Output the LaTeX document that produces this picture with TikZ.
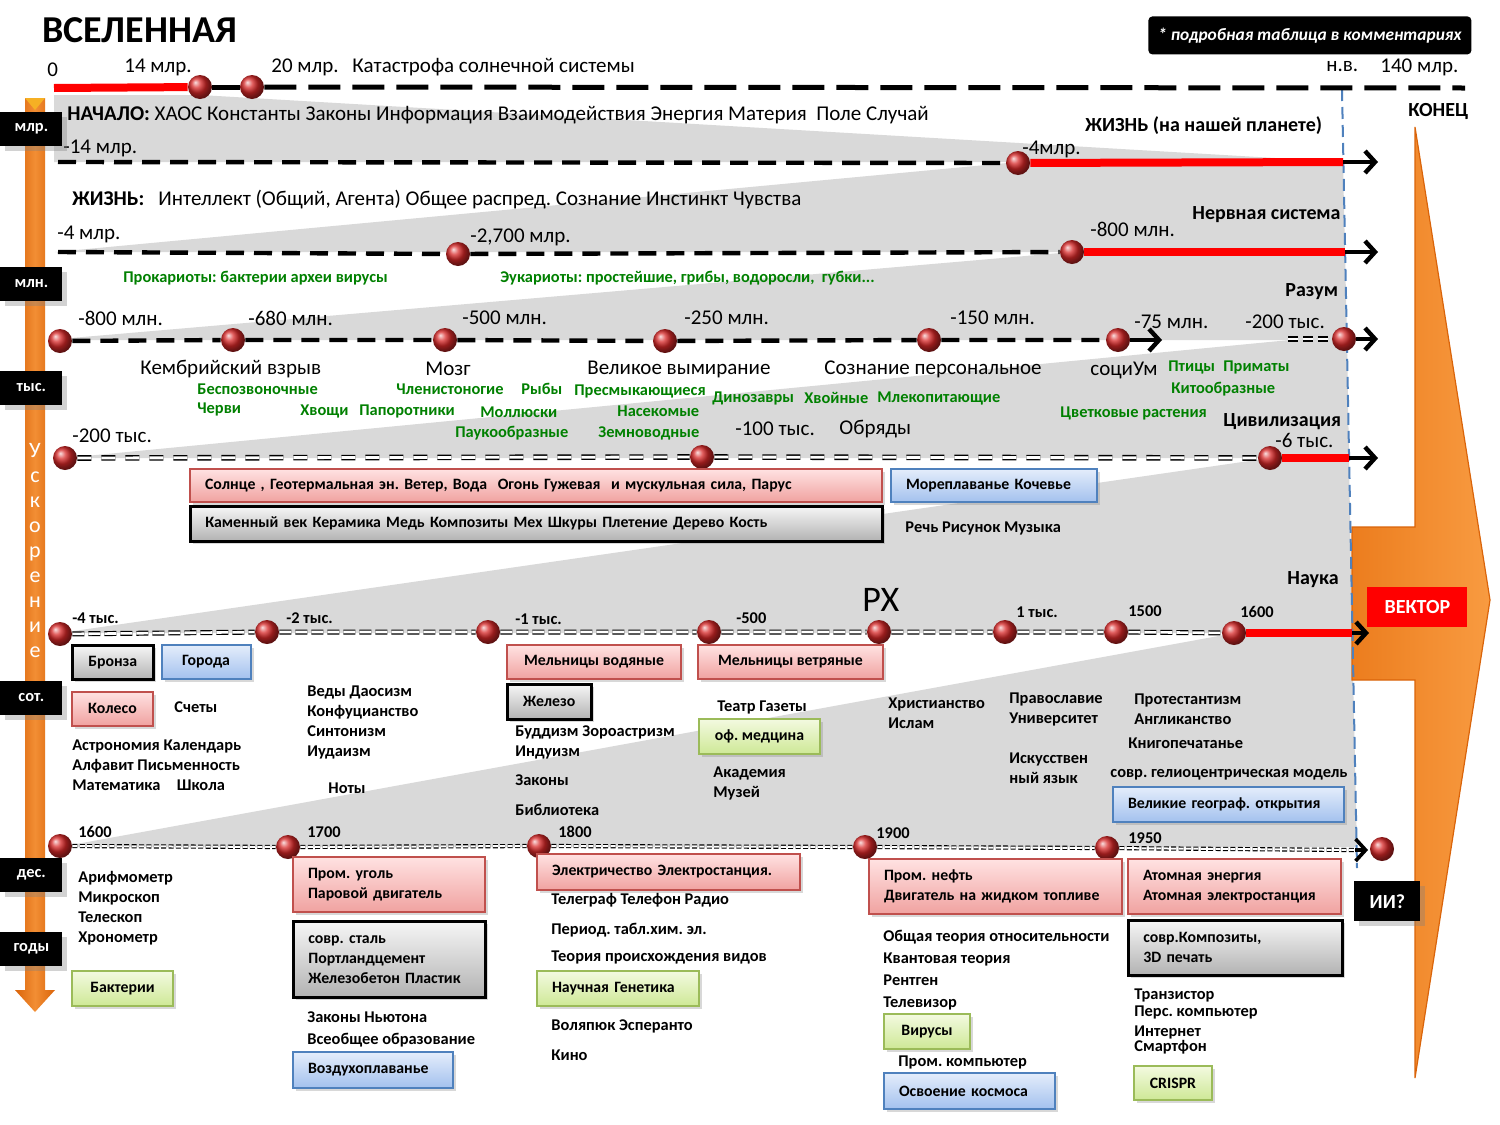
\documentclass[tikz,border=0pt]{standalone}
\usepackage{fontspec}
\setmainfont{Carlito}
\usepackage{xcolor}
\usepackage{tikz}
\usetikzlibrary{arrows.meta, positioning, shadows}
\definecolor{bandgrey}{RGB}{217,217,217}
\definecolor{leafgreen}{RGB}{0,128,0}
\definecolor{nowblue}{RGB}{79,129,189}
\definecolor{rededge}{RGB}{192,80,77}
\definecolor{pinktop}{RGB}{255,226,226}
\definecolor{pinkbot}{RGB}{240,162,160}
\definecolor{greytop}{RGB}{246,246,246}
\definecolor{greybot}{RGB}{178,178,178}
\definecolor{bluetop}{RGB}{228,237,251}
\definecolor{bluebot}{RGB}{163,193,238}
\definecolor{greenedge}{RGB}{155,187,89}
\definecolor{greentop}{RGB}{243,250,224}
\definecolor{greenbot}{RGB}{206,232,150}
\definecolor{axisdark}{RGB}{218,100,10}
\definecolor{axislight}{RGB}{242,142,52}
\definecolor{vecorange}{RGB}{248,155,65}
\definecolor{vecdark}{RGB}{236,125,30}
\definecolor{ballred}{RGB}{215,40,40}
\newcommand{\lblfont}{\fontsize{10.5}{12.5}\selectfont}
\newcommand{\smfont}{\fontsize{8.2}{10}\selectfont\bfseries}
\newcommand{\boxfont}{\fontsize{7.9}{10}\selectfont\bfseries}
\newcommand{\hdfont}{\fontsize{10}{12}\selectfont\bfseries}
\frenchspacing

\begin{document}
\begin{tikzpicture}[
    x=0.5pt, y=-0.5pt,
    every node/.style={inner sep=0pt, anchor=west},
    txt/.style={font=\lblfont},
    sm/.style={font=\smfont, align=left},
    grn/.style={font=\smfont, text=leafgreen},
    hd/.style={font=\hdfont},
    redball/.style={circle, ball color=ballred, minimum size=12pt, anchor=center},
    unitbox/.style={fill=black, text=white, font=\smfont, minimum width=31pt, minimum height=17pt, drop shadow={opacity=0.35}},
    topdash/.style={line width=2.5pt, dash pattern=on 16pt off 6pt},
    rowdash/.style={line width=2.2pt, dash pattern=on 9pt off 5pt},
    dbl/.style={double, double distance=1.4pt, line width=0.7pt, dash pattern=on 7pt off 5pt},
    dblshort/.style={double, double distance=1.4pt, line width=0.7pt, dash pattern=on 5pt off 2.5pt},
    dbldense/.style={double, double distance=1.3pt, line width=0.6pt, dash pattern=on 6pt off 2pt},
    dbldot/.style={double, double distance=1pt, line width=0.55pt, dash pattern=on 2.5pt off 1.2pt},
    redline/.style={red, line width=4pt},
    endarrow/.style={line width=2.2pt, -{Straight Barb[length=5pt, width=11pt]}},
    bx/.style={anchor=north west, font=\boxfont, inner xsep=7.5pt, align=left,
               drop shadow={opacity=0.3, shadow xshift=1.5pt, shadow yshift=-1.5pt}},
    redbox/.style={bx, draw=rededge, line width=1pt, top color=pinktop, bottom color=pinkbot},
    greybox/.style={bx, draw=black, line width=1.3pt, top color=greytop, bottom color=greybot},
    bluebox/.style={bx, draw=nowblue, line width=1pt, top color=bluetop, bottom color=bluebot},
    greenbox/.style={bx, draw=greenedge, line width=1pt, top color=greentop, bottom color=greenbot},
    cbox/.style={inner xsep=2pt, align=center, minimum width=#1},
]
\useasboundingbox[fill=white] (0,0) rectangle (1500,1125);

\fill[bandgrey] (54,95) -- (200,95) -- (1343,162) -- (54,162) -- cycle;
\fill[bandgrey] (1018,162) -- (1343,162) -- (1345,252) -- (55,252) -- cycle;
\fill[bandgrey] (1072,252) -- (1345,252) -- (1347,340) -- (48,340) -- cycle;
\fill[bandgrey] (1290,340) -- (1347,340) -- (1349,458) -- (65,458) -- cycle;
\fill[bandgrey] (1270,458) -- (1349,458) -- (1352,633) -- (60,633) -- cycle;
\fill[bandgrey] (1235,633) -- (1352,633) -- (1357,847) -- (60,847) -- cycle;

\shade[left color=vecdark, right color=vecorange, draw=axisdark, line width=0.6pt] (1415,127) -- (1490,600) -- (1415,1078) -- (1415,680) -- (1352,680) -- (1352,527) -- (1415,527) -- cycle;
\shade[left color=axisdark, right color=axisdark, middle color=axislight] (25,98) -- (45,98) -- (45,990) -- (55,990) -- (35,1012) -- (15,990) -- (25,990) -- cycle;
\fill[axislight!70!yellow] (25,98) -- (45,98) -- (35,110) -- cycle;

\coordinate (nowtop) at (1342,89);
\coordinate (nowbot) at (1357,868);
\draw[nowblue, line width=1pt, dash pattern=on 6pt off 3pt] (nowtop) -- (nowbot);

\coordinate (t0) at (54,88);
\coordinate (tend) at (1465,88);
\node[redball] (t14) at (200,87) {};
\node[redball] (t20) at (252,87) {};
\draw[redline] (t0) -- (t14);
\draw[topdash] (t14) -- (t20);
\draw[topdash] (t20) -- (tend);

\coordinate (r1s) at (58,162);
\coordinate (r1now) at (1343,162);
\coordinate (r1end) at (1378,162);
\node[redball] (r1a) at (1018,163) {};
\draw[rowdash] (r1s) -- (r1a);
\draw[redline] (r1a) -- (r1now);
\draw[endarrow] (r1now) -- (r1end);

\coordinate (r2s) at (58,252);
\coordinate (r2now) at (1345,252);
\coordinate (r2end) at (1378,252);
\node[redball] (r2a) at (458,254) {};
\node[redball] (r2b) at (1072,252) {};
\draw[rowdash] (r2s) -- (r2a) -- (r2b);
\draw[redline] (r2b) -- (r2now);
\draw[endarrow] (r2now) -- (r2end);

\node[redball] (r3a) at (60,341) {};
\node[redball] (r3b) at (233,340) {};
\node[redball] (r3c) at (445,340) {};
\node[redball] (r3d) at (665,341) {};
\node[redball] (r3e) at (929,340) {};
\node[redball] (r3f) at (1118,340) {};
\node[redball] (r3z) at (1344,339) {};
\coordinate (r3end) at (1162,340);
\coordinate (r3h) at (1288,339);
\coordinate (r3x) at (1378,339);
\draw[rowdash] (r3a) -- (r3b) -- (r3c) -- (r3d) -- (r3e) -- (r3f);
\draw[endarrow] (r3f) -- (r3end);
\draw[dblshort] (r3h) -- (r3z);
\draw[endarrow] (r3z) -- (r3x);

\node[redball] (r4a) at (65,458) {};
\node[redball] (r4b) at (702,457) {};
\node[redball] (r4c) at (1270,458) {};
\coordinate (r4now) at (1349,458);
\coordinate (r4end) at (1378,458);
\draw[dbl] (r4a) -- (r4b) -- (r4c);
\draw[redline] (r4c) -- (r4now);
\draw[endarrow] (r4now) -- (r4end);

\node[redball] (r5a) at (60,634) {};
\node[redball] (r5b) at (267,632) {};
\node[redball] (r5c) at (488,632) {};
\node[redball] (r5d) at (709,632) {};
\node[redball] (r5e) at (879,632) {};
\node[redball] (r5f) at (1005,632) {};
\node[redball] (r5g) at (1116,632) {};
\node[redball] (r5h) at (1234,633) {};
\coordinate (r5now) at (1352,633);
\coordinate (r5end) at (1369,633);
\draw[dbldense] (r5a) -- (r5b) -- (r5c) -- (r5d) -- (r5e) -- (r5f) -- (r5g) -- (r5h);
\draw[redline] (r5h) -- (r5now);
\draw[endarrow] (r5now) -- (r5end);

\node[redball] (r6a) at (60,846) {};
\node[redball] (r6b) at (288,847) {};
\node[redball] (r6c) at (539,846) {};
\node[redball] (r6d) at (865,847) {};
\node[redball] (r6e) at (1107,848) {};
\node[redball] (r6ai) at (1382,849) {};
\coordinate (r6now) at (1355,850);
\coordinate (r6end) at (1368,850);
\draw[dbldot] (r6a) -- (r6b) -- (r6c) -- (r6d) -- (r6e) -- (r6now);
\draw[endarrow, line width=1.8pt] (r6now) -- (r6end);

\node[font=\fontsize{19}{22}\selectfont\bfseries] (title) at (42,30) {ВСЕЛЕННАЯ};
\node[fill=black, rounded corners=2pt, text=white, font=\fontsize{8.7}{11}\selectfont\bfseries\itshape, minimum width=161.5pt, minimum height=19pt, anchor=north west] (note) at (1148,16) {* подробная таблица в комментариях};
\node[txt] (zero) at (47,70) {0};
\node[txt] (b14) at (124,67) {14 млр.};
\node[txt] (b20) at (271,67) {20 млр.};
\node[txt] (katastr) at (352,67) {Катастрофа солнечной системы};
\node[txt] (nv) at (1326,67) {н.в.};
\node[txt] (b140) at (1380,67) {140 млр.};
\node[hd] (konec) at (1408,111) {КОНЕЦ};

\node[txt] (nachalo) at (67,115) {\textbf{НАЧАЛО:} ХАОС Константы Законы Информация Взаимодействия Энергия Материя\ \ Поле Случай};
\node[txt] (m14) at (63,148) {-14 млр.};
\node[txt] (m4a) at (1022,149) {-4млр.};
\node[hd] (zhplan) at (1085,126) {ЖИЗНЬ (на нашей планете)};

\node[txt] (zhizn) at (72,200) {\textbf{ЖИЗНЬ:}\hspace{7pt}Интеллект (Общий, Агента) Общее распред. Сознание Инстинкт Чувства};
\node[txt] (m4b) at (57,234) {-4 млр.};
\node[txt] (m27) at (470,237) {-2,700 млр.};
\node[txt] (m800a) at (1090,229) {-800 млн.};
\node[hd] (nerv) at (1192,215) {Нервная система};
\node[grn] (prok) at (123,278) {Прокариоты: бактерии археи вирусы};
\node[grn] (euk) at (500,278) {Эукариоты: простейшие, грибы, водоросли,\ \ губки...};

\node[txt] (m800b) at (78,318) {-800 млн.};
\node[txt] (m680) at (248,318) {-680 млн.};
\node[txt] (m500) at (462,318) {-500 млн.};
\node[txt] (m250) at (684,318) {-250 млн.};
\node[txt] (m150) at (950,318) {-150 млн.};
\node[txt] (m75) at (1134,322) {-75 млн.};
\node[txt] (k200a) at (1245,322) {-200 тыс.};
\node[hd] (razum) at (1285,292) {Разум};
\node[txt] (kembr) at (140,369) {Кембрийский взрыв};
\node[txt] (mozg) at (425,369) {Мозг};
\node[txt] (vymir) at (587,369) {Великое вымирание};
\node[txt] (soznan) at (824,369) {Сознание персональное};
\node[txt] (socium) at (1090,370) {социУм};
\node[grn] (bespoz) at (197,389) {Беспозвоночные};
\node[grn] (chervi) at (197,409) {Черви};
\node[grn] (hvoshi) at (300,411) {Хвощи};
\node[grn] (paporot) at (359,411) {Папоротники};
\node[grn] (chlen) at (396,389) {Членистоногие};
\node[grn] (ryby) at (521,389) {Рыбы};
\node[grn] (mollus) at (480,412) {Моллюски};
\node[grn] (pauk) at (455,433) {Паукообразные};
\node[grn] (presm) at (574,391) {Пресмыкающиеся};
\node[grn] (nasek) at (617,411) {Насекомые};
\node[grn] (zemn) at (598,433) {Земноводные};
\node[grn] (dinoz) at (712,398) {Динозавры};
\node[grn] (hvoin) at (804,398) {Хвойные};
\node[grn] (mlek) at (877,398) {Млекопитающие};
\node[grn] (ptic) at (1168,367) {Птицы};
\node[grn] (primat) at (1223,367) {Приматы};
\node[grn] (kitoob) at (1171,389) {Китообразные};
\node[grn] (cvetk) at (1060,413) {Цветковые растения};
\node[txt] (k100) at (735,429) {-100 тыс.};
\node[txt] (obryad) at (839,429) {Обряды};

\node[txt] (k200b) at (72,436) {-200 тыс.};
\node[hd] (civil) at (1223,422) {Цивилизация};
\node[txt] (k6) at (1275,440) {-6 тыс.};
\node[redbox, text width=331pt, minimum height=16.5pt] (solnce) at (189,468) {Солнце , Геотермальная эн. Ветер, Вода\ \ Огонь Гужевая\ \ и мускульная сила, Парус};
\node[greybox, text width=331pt, minimum height=17.5pt, below=1pt of solnce.south west, anchor=north west] (kamen) {Каменный век Керамика Медь Композиты Мех Шкуры Плетение Дерево Кость};
\node[bluebox, text width=88pt, minimum height=16.5pt] (morepl) at (890,468) {Мореплаванье Кочевье};
\node[sm] (rech) at (905,528) {Речь Рисунок Музыка};

\node[hd] (nauka) at (1287,580) {Наука};
\node[font=\fontsize{18}{20}\selectfont] (rh) at (862,600) {РХ};
\node[sm] (k4) at (72,618) {-4 тыс.};
\node[sm] (k2) at (286,618) {-2 тыс.};
\node[sm] (k1) at (515,619) {-1 тыс.};
\node[sm] (y500) at (736,618) {-500};
\node[sm] (y1k) at (1016,612) {1 тыс.};
\node[sm] (y1500) at (1128,611) {1500};
\node[sm] (y1600a) at (1240,612) {1600};
\node[greybox, cbox=40.5pt, minimum height=17pt] (bronza) at (71,644) {Бронза};
\node[bluebox, cbox=44.5pt, minimum height=17pt, right=3pt of bronza.north east, anchor=north west] (goroda) {Города};
\node[redbox, cbox=40.5pt, minimum height=17pt, below=5pt of bronza.south west, anchor=north west] (koleso) {Колесо};
\node[sm] (schety) at (174,707) {Счеты};
\node[sm] (astron) at (72,765) {Астрономия Календарь\\Алфавит Письменность\\Математика\quad Школа};
\node[sm] (vedy) at (307,722) {Веды Даосизм\\Конфуцианство\\Синтонизм\\Иудаизм};
\node[sm] (noty) at (328,788) {Ноты};
\node[redbox, cbox=87pt, minimum height=17pt] (vodyan) at (506,644) {Мельницы водяные};
\node[greybox, cbox=42pt, minimum height=17.5pt, below=1.5pt of vodyan.south west, anchor=north west] (zhelezo) {Железо};
\node[sm] (budd) at (515,742) {Буддизм Зороастризм\\Индуизм};
\node[sm] (zakony) at (515,780) {Законы};
\node[sm] (bibl) at (515,810) {Библиотека};
\node[redbox, cbox=92.5pt, minimum height=17pt] (vetryan) at (697,644) {Мельницы ветряные};
\node[sm] (teatr) at (717,707) {Театр Газеты};
\node[greenbox, cbox=60.5pt, minimum height=17.5pt] (ofmed) at (698,718) {оф. медцина};
\node[sm] (akadem) at (713,783) {Академия\\Музей};
\node[sm] (hrist) at (888,713) {Христианство\\Ислам};
\node[sm] (pravosl) at (1009,709) {Православие\\Университет};
\node[sm] (iskusst) at (1009,768) {Искусствен\\ный язык};
\node[sm] (protest) at (1134,709) {Протестантизм\\Англиканство};
\node[sm] (knigop) at (1128,743) {Книгопечатанье};
\node[sm] (gelio) at (1110,775) {совр. гелиоцентрическая модель};
\node[bluebox, text width=100.5pt, minimum height=17.5pt] (geogr) at (1112,786) {Великие географ. открытия};

\node[sm] (y1600b) at (78,832) {1600};
\node[sm] (y1700) at (307,832) {1700};
\node[sm] (y1800) at (558,832) {1800};
\node[sm] (y1900) at (876,833) {1900};
\node[sm] (y1950) at (1128,838) {1950};
\node[sm] (arifm) at (78,908) {Арифмометр\\Микроскоп\\Телескоп\\Хронометр};
\node[greenbox, cbox=50.5pt, minimum height=17.5pt] (bakter) at (71,970) {Бактерии};
\node[redbox, text width=81pt, minimum height=27.5pt] (ugol) at (292,856) {Пром. уголь\\Паровой двигатель};
\node[greybox, text width=81pt, minimum height=38pt, below=3.5pt of ugol.south west, anchor=north west] (stal) {совр. сталь\\Портландцемент\\Железобетон Пластик};
\node[sm] (nyuton) at (307,1029) {Законы Ньютона\\[1pt]Всеобщее образование};
\node[bluebox, text width=65pt, minimum height=18pt] (vozduh) at (292,1051) {Воздухоплаванье};
\node[redbox, text width=116.5pt, minimum height=18pt] (elektr) at (536,853) {Электричество Электростанция.};
\node[sm] (telegr) at (551,900) {Телеграф Телефон Радио};
\node[sm] (period) at (551,930) {Период. табл.хим. эл.};
\node[sm] (darvin) at (551,957) {Теория происхождения видов};
\node[greenbox, text width=66pt, minimum height=17.5pt] (genet) at (536,970) {Научная Генетика};
\node[sm] (volap) at (551,1026) {Воляпюк Эсперанто};
\node[sm] (kino) at (551,1055) {Кино};
\node[redbox, text width=111.5pt, minimum height=27.5pt] (neft) at (868,858) {Пром. нефть\\Двигатель на жидком топливе};
\node[sm] (einst) at (883,970) {Общая теория относительности\\[1pt]Квантовая теория\\[1pt]Рентген\\[1pt]Телевизор};
\node[greenbox, cbox=43pt, minimum height=17.5pt] (virus) at (883,1013) {Вирусы};
\node[sm] (promcomp) at (898,1062) {Пром. компьютер};
\node[bluebox, text width=70.5pt, minimum height=18pt] (kosmos) at (883,1072) {Освоение космоса};
\node[redbox, text width=91.5pt, minimum height=27.5pt] (atom) at (1127,858) {Атомная энергия\\Атомная электростанция};
\node[greybox, text width=92pt, minimum height=27.5pt, below=2pt of atom.south west, anchor=north west] (kompoz) {совр.Композиты,\\3D печать};
\node[sm] (tranz) at (1134,1004) {Транзистор\\[-1.5pt]Перс. компьютер};
\node[sm] (internet) at (1134,1040) {Интернет\\[-2.5pt]Смартфон};
\node[greenbox, cbox=39pt, minimum height=17pt] (crispr) at (1133,1065) {CRISPR};

\node[fill=red, text=white, font=\hdfont, minimum width=50pt, minimum height=20pt, anchor=north west] (vektor) at (1367,587) {ВЕКТОР};
\node[fill=black, text=white, font=\hdfont, minimum width=33pt, minimum height=20pt, anchor=north west, drop shadow={opacity=0.35}] (ii) at (1354,881) {ИИ?};

\node[anchor=center, align=center, text=white, font=\fontsize{11}{12.5}\selectfont] (uskor) at (35,551) {У\\с\\к\\о\\р\\е\\н\\и\\е};
\node[unitbox] (umlr) at (0,129) {млр.};
\node[unitbox] (umln) at (0,284) {млн.};
\node[unitbox] (utys) at (0,388) {тыс.};
\node[unitbox] (usot) at (0,698) {сот.};
\node[unitbox] (udes) at (0,875) {дес.};
\node[unitbox] (ugody) at (0,949) {годы};
\end{tikzpicture}
\end{document}
